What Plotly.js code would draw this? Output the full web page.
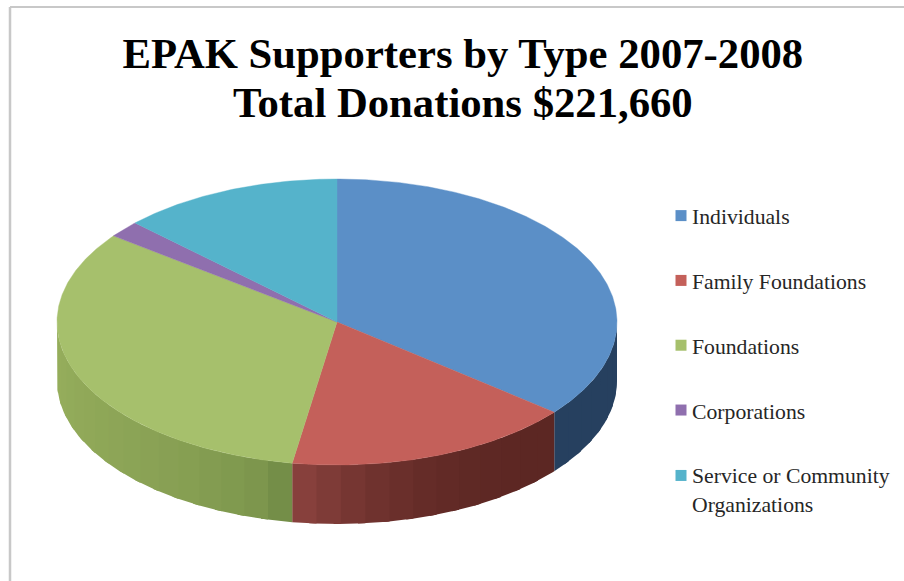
<!DOCTYPE html>
<html>
<head>
<meta charset="utf-8">
<script src="https://cdn.plot.ly/plotly-3.0.1.min.js"></script>
<style>html,body{margin:0;padding:0;background:#fff}</style>
</head>
<body>
<div id="chart" style="width:904px;height:581px"></div>
<script>
var categories = ["Individuals", "Family Foundations", "Foundations", "Corporations", "Service or Community<br>Organizations"];
var donations = [79500, 37000, 72550, 4200, 28410];
var topColors = ["#5b8fc7", "#c4605a", "#a6c06c", "#8f6fae", "#55b3cb"];
var wallFrom = ["#26405f", "#5c2723", "#748e48", "#8f6fae", "#55b3cb"];
var wallTo = ["#26405f", "#87403c", "#96ae5c", "#8f6fae", "#55b3cb"];
var wallCurve = [1, 2.5, 0.5, 1, 1];

var cx = 337, cy = 322, rx = 280, ry = 143, depth = 59;
var total = donations.reduce(function (a, b) { return a + b; }, 0);

function px(t) { return cx + rx * Math.sin(t * Math.PI / 180); }
function py(t) { return cy - ry * Math.cos(t * Math.PI / 180); }
function hex(c) { return [1, 3, 5].map(function (i) { return parseInt(c.substr(i, 2), 16); }); }
function mix(a, b, f) {
  var p = hex(a), q = hex(b);
  return "rgb(" + p.map(function (v, i) { return Math.round(v + (q[i] - v) * f); }).join(",") + ")";
}

var traces = [], tops = [], start = 0;
donations.forEach(function (v, i) {
  var end = start + v / total * 360;

  // side wall, visible only on the front half, drawn as overlapping shaded strips
  var a0 = Math.max(start, 90), a1 = Math.min(end, 270);
  if (a1 > a0) {
    var strips = Math.max(1, Math.round((a1 - a0) / 5));
    for (var s = 0; s < strips; s++) {
      var b0 = a0 + (a1 - a0) * s / strips;
      var b1 = Math.min(a1, a0 + (a1 - a0) * (s + 1) / strips + 1.5);
      var xs = [], ys = [], t;
      for (t = b0; t < b1; t += 1) { xs.push(px(t)); ys.push(py(t)); }
      xs.push(px(b1)); ys.push(py(b1));
      for (t = b1; t > b0; t -= 1) { xs.push(px(t)); ys.push(py(t) + depth); }
      xs.push(px(b0)); ys.push(py(b0) + depth);
      xs.push(xs[0]); ys.push(ys[0]);
      var f = Math.pow(s / Math.max(1, strips - 1), wallCurve[i]);
      var col = mix(wallFrom[i], wallTo[i], f);
      traces.push({ x: xs, y: ys, mode: "lines", fill: "toself", fillcolor: col,
        line: { color: col, width: 0 }, hoverinfo: "skip", showlegend: false });
    }
  }

  // top face of the slice
  var tx = [cx], ty = [cy];
  for (var a = start; a < end; a += 0.5) { tx.push(px(a)); ty.push(py(a)); }
  tx.push(px(end), cx); ty.push(py(end), cy);
  tops.push({ x: tx, y: ty, mode: "lines", fill: "toself", fillcolor: topColors[i],
    line: { color: topColors[i], width: 0.4 }, name: categories[i],
    text: categories[i], hoverinfo: "text", showlegend: false });
  start = end;
});

// legend entries
var legendItems = categories.map(function (c, i) {
  return { x: [null], y: [null], mode: "markers", name: c, legendgroup: "g" + i,
    marker: { symbol: "square", size: 11, color: topColors[i] }, hoverinfo: "skip" };
});

var layout = {
  width: 904, height: 581,
  margin: { l: 0, r: 0, t: 0, b: 0 },
  paper_bgcolor: "#ffffff", plot_bgcolor: "#ffffff",
  showlegend: true,
  title: {
    text: "EPAK Supporters by Type 2007-2008<br>Total Donations $221,660",
    font: { family: "Liberation Serif", size: 42.7, color: "#000000", weight: 700 },
    x: 0.512, xanchor: "center", y: 0.883, yanchor: "bottom"
  },
  xaxis: { range: [0, 904], visible: false, fixedrange: true },
  yaxis: { range: [581, 0], visible: false, fixedrange: true },
  legend: {
    x: 652 / 904, xanchor: "left", y: 1 - 195 / 581, yanchor: "top",
    font: { family: "Liberation Serif", size: 21.7, color: "#262626" },
    tracegroupgap: 33.6, bgcolor: "rgba(0,0,0,0)", itemclick: false, itemdoubleclick: false
  },
  shapes: [
    { type: "line", xref: "paper", yref: "paper", x0: 10 / 904, x1: 10 / 904, y0: 0, y1: 1 - 7 / 581, line: { color: "#c8c8c8", width: 2.5 } },
    { type: "line", xref: "paper", yref: "paper", x0: 10 / 904, x1: 1, y0: 1 - 7 / 581, y1: 1 - 7 / 581, line: { color: "#c8c8c8", width: 2 } }
  ]
};

Plotly.newPlot("chart", traces.concat(tops, legendItems), layout, { displayModeBar: false }).then(function () {
  // bring the swatches closer to their labels, as in the original legend
  var swatches = document.querySelectorAll(".legend path.scatterpts");
  swatches.forEach(function (p, i) {
    p.setAttribute("transform", "translate(29," + (i === swatches.length - 1 ? -13.5 : 0) + ")");
  });
  // tighter title leading, as in the original
  var lines = document.querySelectorAll(".gtitle tspan.line");
  if (lines.length > 1) lines[1].setAttribute("dy", "1.15em");
});
</script>
</body>
</html>
